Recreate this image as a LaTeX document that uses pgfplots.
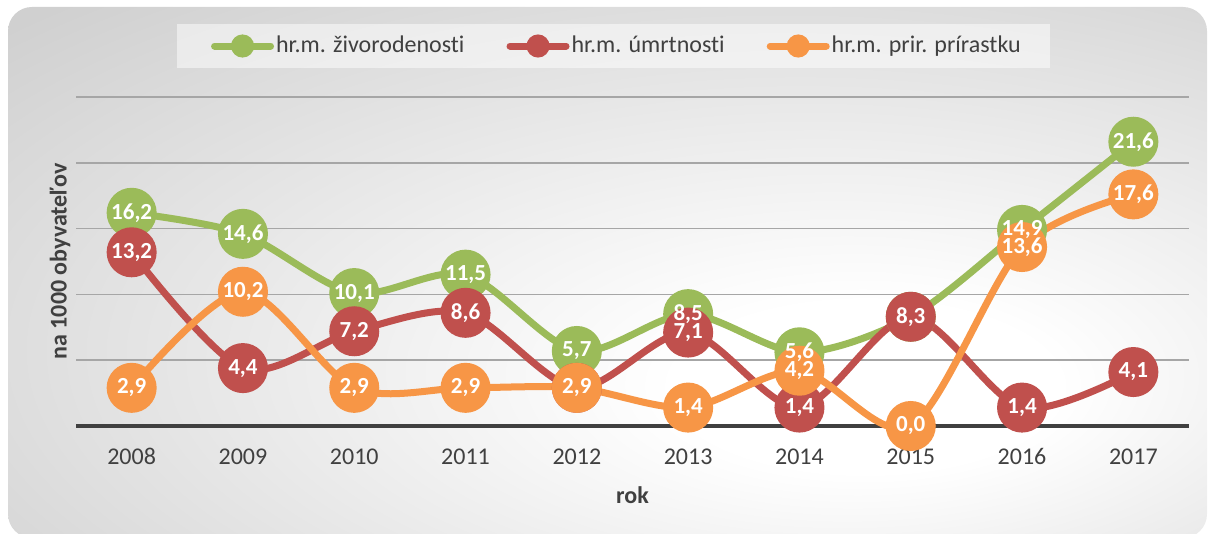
\documentclass[border=0pt]{standalone}
\usepackage{fontspec}
\setmainfont{Carlito}[Ligatures={NoCommon}]
\usepackage{pgfplots}
\pgfplotsset{compat=1.18}
\definecolor{cgreen}{HTML}{9BBB59}
\definecolor{cred}{HTML}{C0504D}
\definecolor{corange}{HTML}{F79646}
\definecolor{textc}{HTML}{404040}
\definecolor{gridc}{HTML}{A6A6A6}
\definecolor{basec}{HTML}{404040}
\definecolor{bgA}{HTML}{D0D0D0}
\definecolor{bgB}{HTML}{BABABA}
\pgfdeclareradialshading{bgshade}{\pgfpoint{12bp}{-12bp}}{color(0bp)=(white); color(8bp)=(white); color(42bp)=(bgA); color(80bp)=(bgB)}
\begin{document}
\begin{tikzpicture}[x=1pt,y=1pt]
\useasboundingbox (0,0) rectangle (604,267);
\shade[shading=bgshade, rounded corners=12pt] (4,-2) rectangle (603.5,263.5);
\fill[white, fill opacity=0.5] (88.5,233) rectangle (525,255);
\begin{axis}[
  at={(38pt,54pt)}, anchor=south west,
  scale only axis, width=556.5pt, height=164.5pt,
  xmin=2007.5, xmax=2017.5, ymin=0, ymax=25,
  clip=false,
  axis line style={draw=none},
  tick style={draw=none},
  major tick length=0pt,
  ytick={5,10,15,20,25}, yticklabels={},
  ymajorgrids,
  grid style={color=gridc, line width=0.75pt},
  extra y ticks={0}, extra y tick labels={},
  extra y tick style={grid style={color=basec, line width=2pt}},
  xtick={2008,2009,2010,2011,2012,2013,2014,2015,2016,2017},
  xticklabels={2008,2009,2010,2011,2012,2013,2014,2015,2016,2017},
  xticklabel style={anchor=base, yshift=-19.3pt, font=\fontsize{12}{14}\selectfont, text=textc},
  xlabel={\bfseries rok},
  xlabel style={at={(axis description cs:0.5,0)}, anchor=base, yshift=-39pt, font=\fontsize{12}{14}\selectfont, text=textc},
  ylabel={\bfseries na 1000 obyvateľov},
  ylabel style={at={(axis description cs:-0.0144,0.5)}, anchor=center, font=\fontsize{12}{14}\selectfont, text=textc},
  legend columns=3,
  legend cell align=left,
  legend style={at={(axis description cs:0.486,1.155)}, anchor=center, draw=none, fill=none,
    font=\fontsize{12}{14}\selectfont, text=textc,
    nodes={inner sep=1pt},
    /tikz/every even column/.append style={column sep=20pt}},
  legend image code/.code={\draw[line width=3.5pt, line cap=round] (0pt,0pt)--(28pt,0pt); \fill (14pt,0pt) circle (4pt);},
  every node near coord/.append style={anchor=center, text=white, font=\fontsize{11.5}{13}\selectfont\bfseries},
]
\addplot[cgreen, line width=3.5pt, smooth, tension=0.5, mark=*, mark size=10.75pt, mark options={fill=cgreen, draw=none}]
 coordinates {(2008,16.2) (2009,14.6) (2010,10.1) (2011,11.5) (2012,5.7) (2013,8.5) (2014,5.6) (2015,8.3) (2016,14.9) (2017,21.6)};
\addlegendentry{hr.m. živorodenosti}
\addplot[cred, line width=3.5pt, smooth, tension=0.5, mark=*, mark size=10.75pt, mark options={fill=cred, draw=none}]
 coordinates {(2008,13.2) (2009,4.4) (2010,7.2) (2011,8.6) (2012,2.9) (2013,7.1) (2014,1.4) (2015,8.3) (2016,1.4) (2017,4.1)};
\addlegendentry{hr.m. úmrtnosti}
\addplot[corange, line width=3.5pt, smooth, tension=0.5, mark=*, mark size=10.75pt, mark options={fill=corange, draw=none}]
 coordinates {(2008,2.9) (2009,10.2) (2010,2.9) (2011,2.9) (2012,2.9) (2013,1.4) (2014,4.2) (2015,0.0) (2016,13.6) (2017,17.6)};
\addlegendentry{hr.m. prir. prírastku}
% data labels
\addplot[draw=none, mark=none, forget plot, nodes near coords, point meta=explicit symbolic]
 table[meta=l] {
x y l
2008 16.2 16,2
2009 14.6 14,6
2010 10.1 10,1
2011 11.5 11,5
2012 5.7 5,7
2013 8.5 8,5
2014 5.6 5,6
2016 14.9 14,9
2017 21.6 21,6
};
\addplot[draw=none, mark=none, forget plot, nodes near coords, point meta=explicit symbolic]
 table[meta=l] {
x y l
2008 13.2 13,2
2009 4.4 4,4
2010 7.2 7,2
2011 8.6 8,6
2013 7.1 7,1
2014 1.4 1,4
2015 8.3 8,3
2016 1.4 1,4
2017 4.1 4,1
};
\addplot[draw=none, mark=none, forget plot, nodes near coords, point meta=explicit symbolic]
 table[meta=l] {
x y l
2008 2.9 2,9
2009 10.2 10,2
2010 2.9 2,9
2011 2.9 2,9
2012 2.9 2,9
2013 1.4 1,4
2014 4.2 4,2
2015 0.0 0,0
2016 13.6 13,6
2017 17.6 17,6
};
\end{axis}
\end{tikzpicture}
\end{document}
